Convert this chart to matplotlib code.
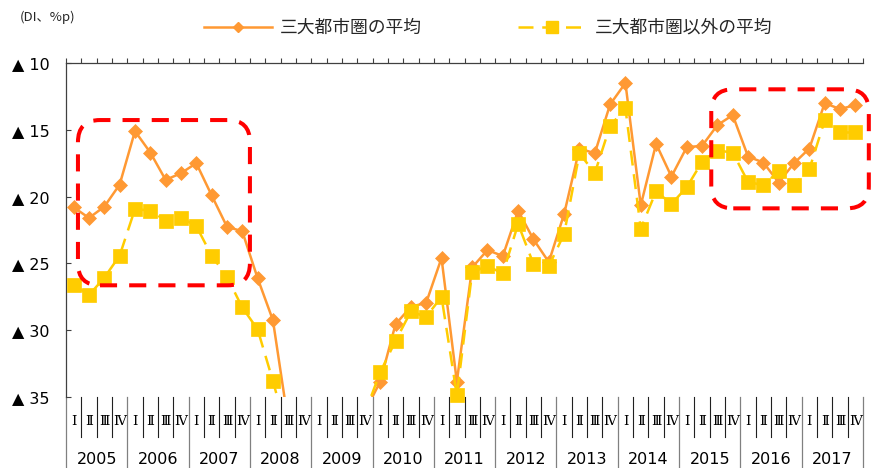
import numpy as np
import matplotlib
matplotlib.use('Agg')
import matplotlib.pyplot as plt
from matplotlib.lines import Line2D
from matplotlib.patches import FancyBboxPatch
from matplotlib.transforms import IdentityTransform, blended_transform_factory

# ---------------- data ----------------
years = [str(y) for y in range(2005, 2018)]
quarters = ["Ⅰ", "Ⅱ", "Ⅲ", "Ⅳ"]
y_ticks = [10, 15, 20, 25, 30, 35]
y_tick_labels = ["▲ 10", "▲ 15", "▲ 20", "▲ 25", "▲ 30", "▲ 35"]
series_names = ["三大都市圏の平均", "三大都市圏以外の平均"]
unit_label = "(DI、%p)"

# DI (▲ = minus), quarterly 2005 I .. 2017 IV
metro_avg = [
    20.8, 21.6, 20.75, 19.1,      # 2005
    15.1, 16.7, 18.75, 18.25,     # 2006
    17.5, 19.9, 22.25, 22.6,      # 2007
    26.1, 29.25, 36.9, 38.5,      # 2008
    39.5, 39.0, 37.5, 36.1,       # 2009
    33.85, 29.55, 28.25, 27.95,   # 2010
    24.6, 33.85, 25.3, 24.0,      # 2011
    24.45, 21.05, 23.2, 24.9,     # 2012
    21.3, 16.4, 16.76, 13.1,      # 2013
    11.5, 20.65, 16.05, 18.5,     # 2014
    16.3, 16.2, 14.65, 13.9,      # 2015
    17.0, 17.45, 18.95, 17.5,     # 2016
    16.4, 13.0, 13.45, 13.15,     # 2017
]
nonmetro_avg = [
    26.6, 27.37, 26.07, 24.42,    # 2005
    20.93, 21.05, 21.8, 21.58,    # 2006
    22.2, 24.42, 25.99, 28.3,     # 2007
    29.93, 33.8, 38.0, 39.0,      # 2008
    40.0, 39.5, 38.0, 36.2,       # 2009
    33.15, 30.8, 28.6, 29.0,      # 2010
    27.5, 34.85, 25.65, 25.2,     # 2011
    25.75, 22.05, 25.05, 25.2,    # 2012
    22.8, 16.76, 18.25, 14.7,     # 2013
    13.4, 22.4, 19.6, 20.55,      # 2014
    19.3, 17.4, 16.55, 16.7,      # 2015
    18.9, 19.15, 18.1, 19.1,      # 2016
    17.95, 14.3, 15.2, 15.2,      # 2017
]

# ---------------- styles ----------------
ORANGE = '#FF9933'
YELLOW = '#FFCC00'
AXC = '#404040'
W, H = 871, 468

fig = plt.figure(figsize=(W / 100, H / 100), dpi=100)
ax_left, ax_right, ax_top, ax_bot = 66, 863, 63, 397
ax = fig.add_axes([ax_left / W, 1 - ax_bot / H, (ax_right - ax_left) / W, (ax_bot - ax_top) / H])

n = len(metro_avg)
x = np.arange(n)
m = np.array(metro_avg, dtype=float)
o = np.array(nonmetro_avg, dtype=float)
ymin_v, ymax_v = min(y_ticks), max(y_ticks)

ax.set_xlim(-0.5, n - 0.5)
ax.set_ylim(ymax_v, ymin_v)

ax.plot(x, m, color=ORANGE, lw=1.8, zorder=3, solid_joinstyle='round')
ax.plot(x, np.where(m <= ymax_v, m, np.nan), ls='none', marker='D', ms=7.3,
        color=ORANGE, mec=ORANGE, mew=0.5, zorder=4, clip_on=False)
ax.plot(x, o, color=YELLOW, lw=1.8, dashes=(6, 3.5), zorder=5)
ax.plot(x, np.where(o <= ymax_v, o, np.nan), ls='none', marker='s', ms=10,
        color=YELLOW, mec=YELLOW, mew=0.5, zorder=6, clip_on=False)

# axes / ticks
for s in ['right', 'bottom']:
    ax.spines[s].set_visible(False)
for s in ['left', 'top']:
    ax.spines[s].set_color(AXC)
    ax.spines[s].set_linewidth(0.9)
ax.xaxis.set_ticks_position('top')
ax.set_xticks(np.arange(n + 1) - 0.5)
ax.tick_params(axis='x', direction='out', length=3.6, width=0.8, color=AXC,
               labeltop=False, labelbottom=False)
ax.set_yticks(y_ticks)
ax.set_yticklabels(y_tick_labels)
ax.tick_params(axis='y', direction='in', length=3.6, width=0.8, color=AXC,
               pad=12, labelsize=11.5, labelcolor='black')

# bottom multi-level category labels
bt = blended_transform_factory(ax.transData, ax.transAxes)
ah = ax_bot - ax_top
def ay(py):
    return (ax_bot - py) / ah

for i in range(n):
    ax.text(i, ay(421.5), quarters[i % 4], transform=bt, ha='center', va='center',
            fontsize=9.5, family='DejaVu Serif', clip_on=False)
for j, yr in enumerate(years):
    ax.text(4 * j + 1.5, ay(459), yr, transform=bt, ha='center', va='center',
            fontsize=11.5, clip_on=False)
for k in range(n + 1):
    if k % 4 == 0:
        ax.plot([k - 0.5, k - 0.5], [0, ay(468)], transform=bt, color='#808080',
                lw=0.9, clip_on=False)
    else:
        ax.plot([k - 0.5, k - 0.5], [0, ay(437)], transform=bt, color='#202020',
                lw=0.8, clip_on=False)

# legend
h1 = Line2D([], [], color=ORANGE, lw=1.8, marker='D', ms=5.5)
h2 = Line2D([], [], color=YELLOW, lw=1.8, dashes=(6, 3.5), marker='s', ms=8)
leg = fig.legend([h1, h2], series_names, loc='center',
                 bbox_to_anchor=(488 / W, 1 - 28 / H), ncol=2, frameon=False,
                 prop={'family': ['Noto Sans CJK JP', 'DejaVu Sans'], 'size': 12.8},
                 handlelength=3.85, handletextpad=0.45, columnspacing=5.4,
                 borderpad=0, borderaxespad=0)
for t in leg.get_texts():
    t.set_color('#262626')

fig.text(19.5 / W, 1 - 17 / H, unit_label, fontsize=9.5, va='center', ha='left',
         family=['Noto Sans CJK JP', 'DejaVu Sans'], color='#262626')

# red dashed highlight boxes (given in data coordinates)
def red_box(x0, x1, v0, v1, r=22):
    p0 = ax.transData.transform((x0, v0))
    p1 = ax.transData.transform((x1, v1))
    xa, xb = sorted([p0[0], p1[0]])
    ya, yb = sorted([p0[1], p1[1]])
    patch = FancyBboxPatch((xa, ya), xb - xa, yb - ya,
                           boxstyle=f'round,pad=0,rounding_size={r}',
                           fill=False, ec='#FF0000', lw=2.9, ls=(0, (4.25, 3)),
                           transform=IdentityTransform(), clip_on=False, zorder=10)
    fig.add_artist(patch)

red_box(0.28, 11.5, 14.27, 26.64)
red_box(41.6, 51.88, 11.97, 20.88)

fig.savefig('out.png', dpi=100)
